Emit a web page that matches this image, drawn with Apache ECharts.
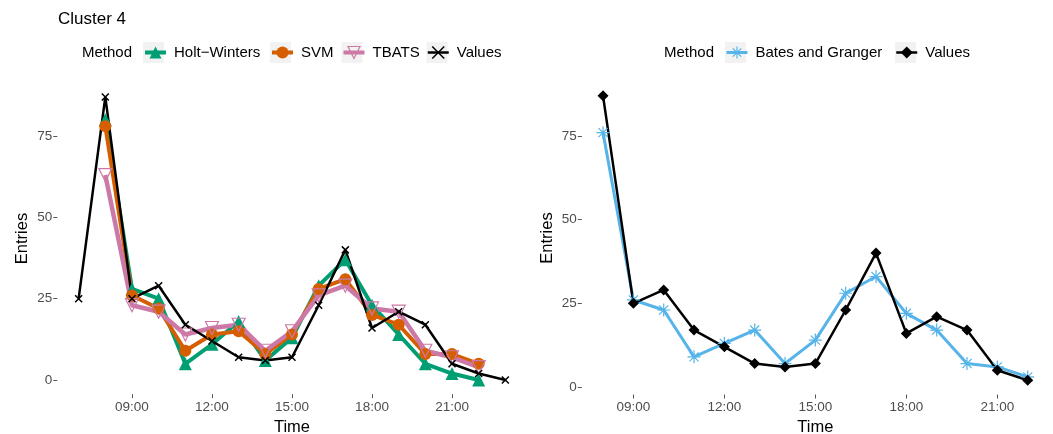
<!DOCTYPE html>
<html>
<head>
<meta charset="utf-8">
<script src="https://cdn.jsdelivr.net/npm/echarts@6/dist/echarts.min.js"></script>
<style>
  html, body { margin: 0; padding: 0; background: #fff; }
  #chart { width: 1053px; height: 434px; }
</style>
</head>
<body>
<div id="chart"></div>
<script>
// hours of the day (x)
const hoursAll = [7, 8, 9, 10, 11, 12, 13, 14, 15, 16, 17, 18, 19, 20, 21, 22, 23];
const hoursFc = [8, 9, 10, 11, 12, 13, 14, 15, 16, 17, 18, 19, 20, 21, 22];

// observed entries
const valuesAll = [25, 87, 25, 29, 17, 12, 7, 6, 7, 23, 40, 16, 21, 17, 5, 2, 0];
const valuesFc = [87, 25, 29, 17, 12, 7, 6, 7, 23, 40, 16, 21, 17, 5, 2];

// forecasts
const holtWinters = [80, 28, 25, 5, 11, 18, 6, 13, 29, 37, 23, 14, 5, 2, 0];
const svm = [78, 26, 22, 9, 14, 15, 8, 14, 28, 31, 20, 17, 8, 8, 5];
const tbats = [63, 23, 21, 14, 16, 17, 9, 15, 26, 29, 22, 21, 9, 7, 4];
const batesGranger = [76, 26, 23, 9, 13, 17, 7, 14, 28, 33, 22, 17, 7, 6, 3];

const timeTicks = [9, 12, 15, 18, 21];
const entryTicks = [0, 25, 50, 75];

const FONT = '"Liberation Sans", Arial, sans-serif';
const pair = (xs, ys) => xs.map((x, i) => [x, ys[i]]);
const X_PATH = 'path://M0,0L10,10M10,0L0,10';
const STAR_PATH = 'path://M5,0L5,10M0,5L10,5M1.5,1.5L8.5,8.5M8.5,1.5L1.5,8.5';

const chart = echarts.init(document.getElementById('chart'), null, { renderer: 'canvas' });

const xAxisFor = (idx, min, max) => ({
  type: 'value', gridIndex: idx, min: min, max: max,
  name: 'Time', nameLocation: 'middle', nameGap: 19,
  nameTextStyle: { color: '#000', fontSize: 16.5, fontFamily: FONT },
  axisLine: { show: false, onZero: false },
  splitLine: { show: false },
  axisTick: { show: true, length: 4, customValues: timeTicks, lineStyle: { color: '#555' } },
  axisLabel: {
    customValues: timeTicks, margin: 6, color: '#4D4D4D', fontSize: 13.5, fontFamily: FONT,
    formatter: v => (v < 10 ? '0' : '') + v + ':00'
  }
});

const yAxisFor = (idx, min, max) => ({
  type: 'value', gridIndex: idx, min: min, max: max,
  name: 'Entries', nameLocation: 'middle', nameGap: 26,
  nameTextStyle: { color: '#000', fontSize: 16.5, fontFamily: FONT },
  axisLine: { show: false, onZero: false },
  splitLine: { show: false },
  axisTick: { show: true, length: 4, customValues: entryTicks, lineStyle: { color: '#555' } },
  axisLabel: { customValues: entryTicks, margin: 5, color: '#4D4D4D', fontSize: 13.5, fontFamily: FONT }
});

const lineSeries = (name, grid, data, color, width, symbol, size, extra) => Object.assign({
  name: name, type: 'line', xAxisIndex: grid, yAxisIndex: grid,
  data: data, symbol: symbol, symbolSize: size,
  lineStyle: { color: color, width: width },
  itemStyle: { color: color },
  emphasis: { disabled: true }
}, extra || {});

const legendItem = (name, left, lineWidth, borderWidth) => ({
  data: [name], left: left, top: 45, padding: 0,
  itemWidth: 21, itemHeight: 15,
  lineStyle: { width: lineWidth },
  itemStyle: { borderWidth: borderWidth },
  textStyle: { color: '#000', fontSize: 15, fontFamily: FONT, lineHeight: 15, padding: [0, 0, 0, 3] },
  selectedMode: false
});

const keyRect = x => ({
  type: 'rect', left: x, top: 42, shape: { width: 21, height: 21 },
  style: { fill: '#F2F2F2' }, silent: true
});

chart.setOption({
  animation: false,
  title: {
    text: 'Cluster 4', left: 58, top: 11, padding: 0,
    textStyle: { fontSize: 17, fontWeight: 'normal', color: '#000', fontFamily: FONT }
  },
  graphic: [
    keyRect(143), keyRect(270), keyRect(341.5), keyRect(426.5),
    keyRect(725), keyRect(895),
    { type: 'text', left: 82, top: 45, style: { text: 'Method', fontSize: 15, fontFamily: FONT, fill: '#000', lineHeight: 15 } },
    { type: 'text', left: 664, top: 45, style: { text: 'Method', fontSize: 15, fontFamily: FONT, fill: '#000', lineHeight: 15 } }
  ],
  legend: [
    legendItem('Holt\u2212Winters', 143, 4, 0),
    legendItem('SVM', 270, 4, 0),
    legendItem('TBATS', 341.5, 4, 1.2),
    legendItem('Values', 426.5, 2.5, 1.5),
    legendItem('Bates and Granger', 725, 3, 1.2),
    legendItem('Values ', 895, 2.5, 0)
  ],
  grid: [
    { left: 57.3, top: 82.8, width: 469.4, height: 311.4, outerBoundsMode: 'none', containLabel: false },
    { left: 581.8, top: 81.6, width: 467.1, height: 312.9, outerBoundsMode: 'none', containLabel: false }
  ],
  xAxis: [xAxisFor(0, 6.2, 23.8), xAxisFor(1, 7.3, 22.7)],
  yAxis: [yAxisFor(0, -4.35, 91.35), yAxisFor(1, -2.25, 91.25)],
  series: [
    lineSeries('Holt\u2212Winters', 0, pair(hoursFc, holtWinters), '#009E73', 4, 'triangle', 13),
    lineSeries('SVM', 0, pair(hoursFc, svm), '#D55E00', 4, 'circle', 12),
    lineSeries('TBATS', 0, pair(hoursFc, tbats), '#CC79A7', 4.5, 'triangle', 13, {
      symbolRotate: 180,
      itemStyle: { color: 'rgba(0,0,0,0)', borderColor: '#CC79A7', borderWidth: 1.2 }
    }),
    lineSeries('Values', 0, pair(hoursAll, valuesAll), '#000', 2.5, X_PATH, 7, {
      itemStyle: { color: 'rgba(0,0,0,0)', borderColor: '#000', borderWidth: 1.5 }
    }),
    lineSeries('Bates and Granger', 1, pair(hoursFc, batesGranger), '#56B4E9', 3, STAR_PATH, 13, {
      itemStyle: { color: 'rgba(0,0,0,0)', borderColor: '#56B4E9', borderWidth: 1.2 }
    }),
    lineSeries('Values ', 1, pair(hoursFc, valuesFc), '#000', 2.5, 'diamond', 11)
  ]
});
</script>
</body>
</html>
